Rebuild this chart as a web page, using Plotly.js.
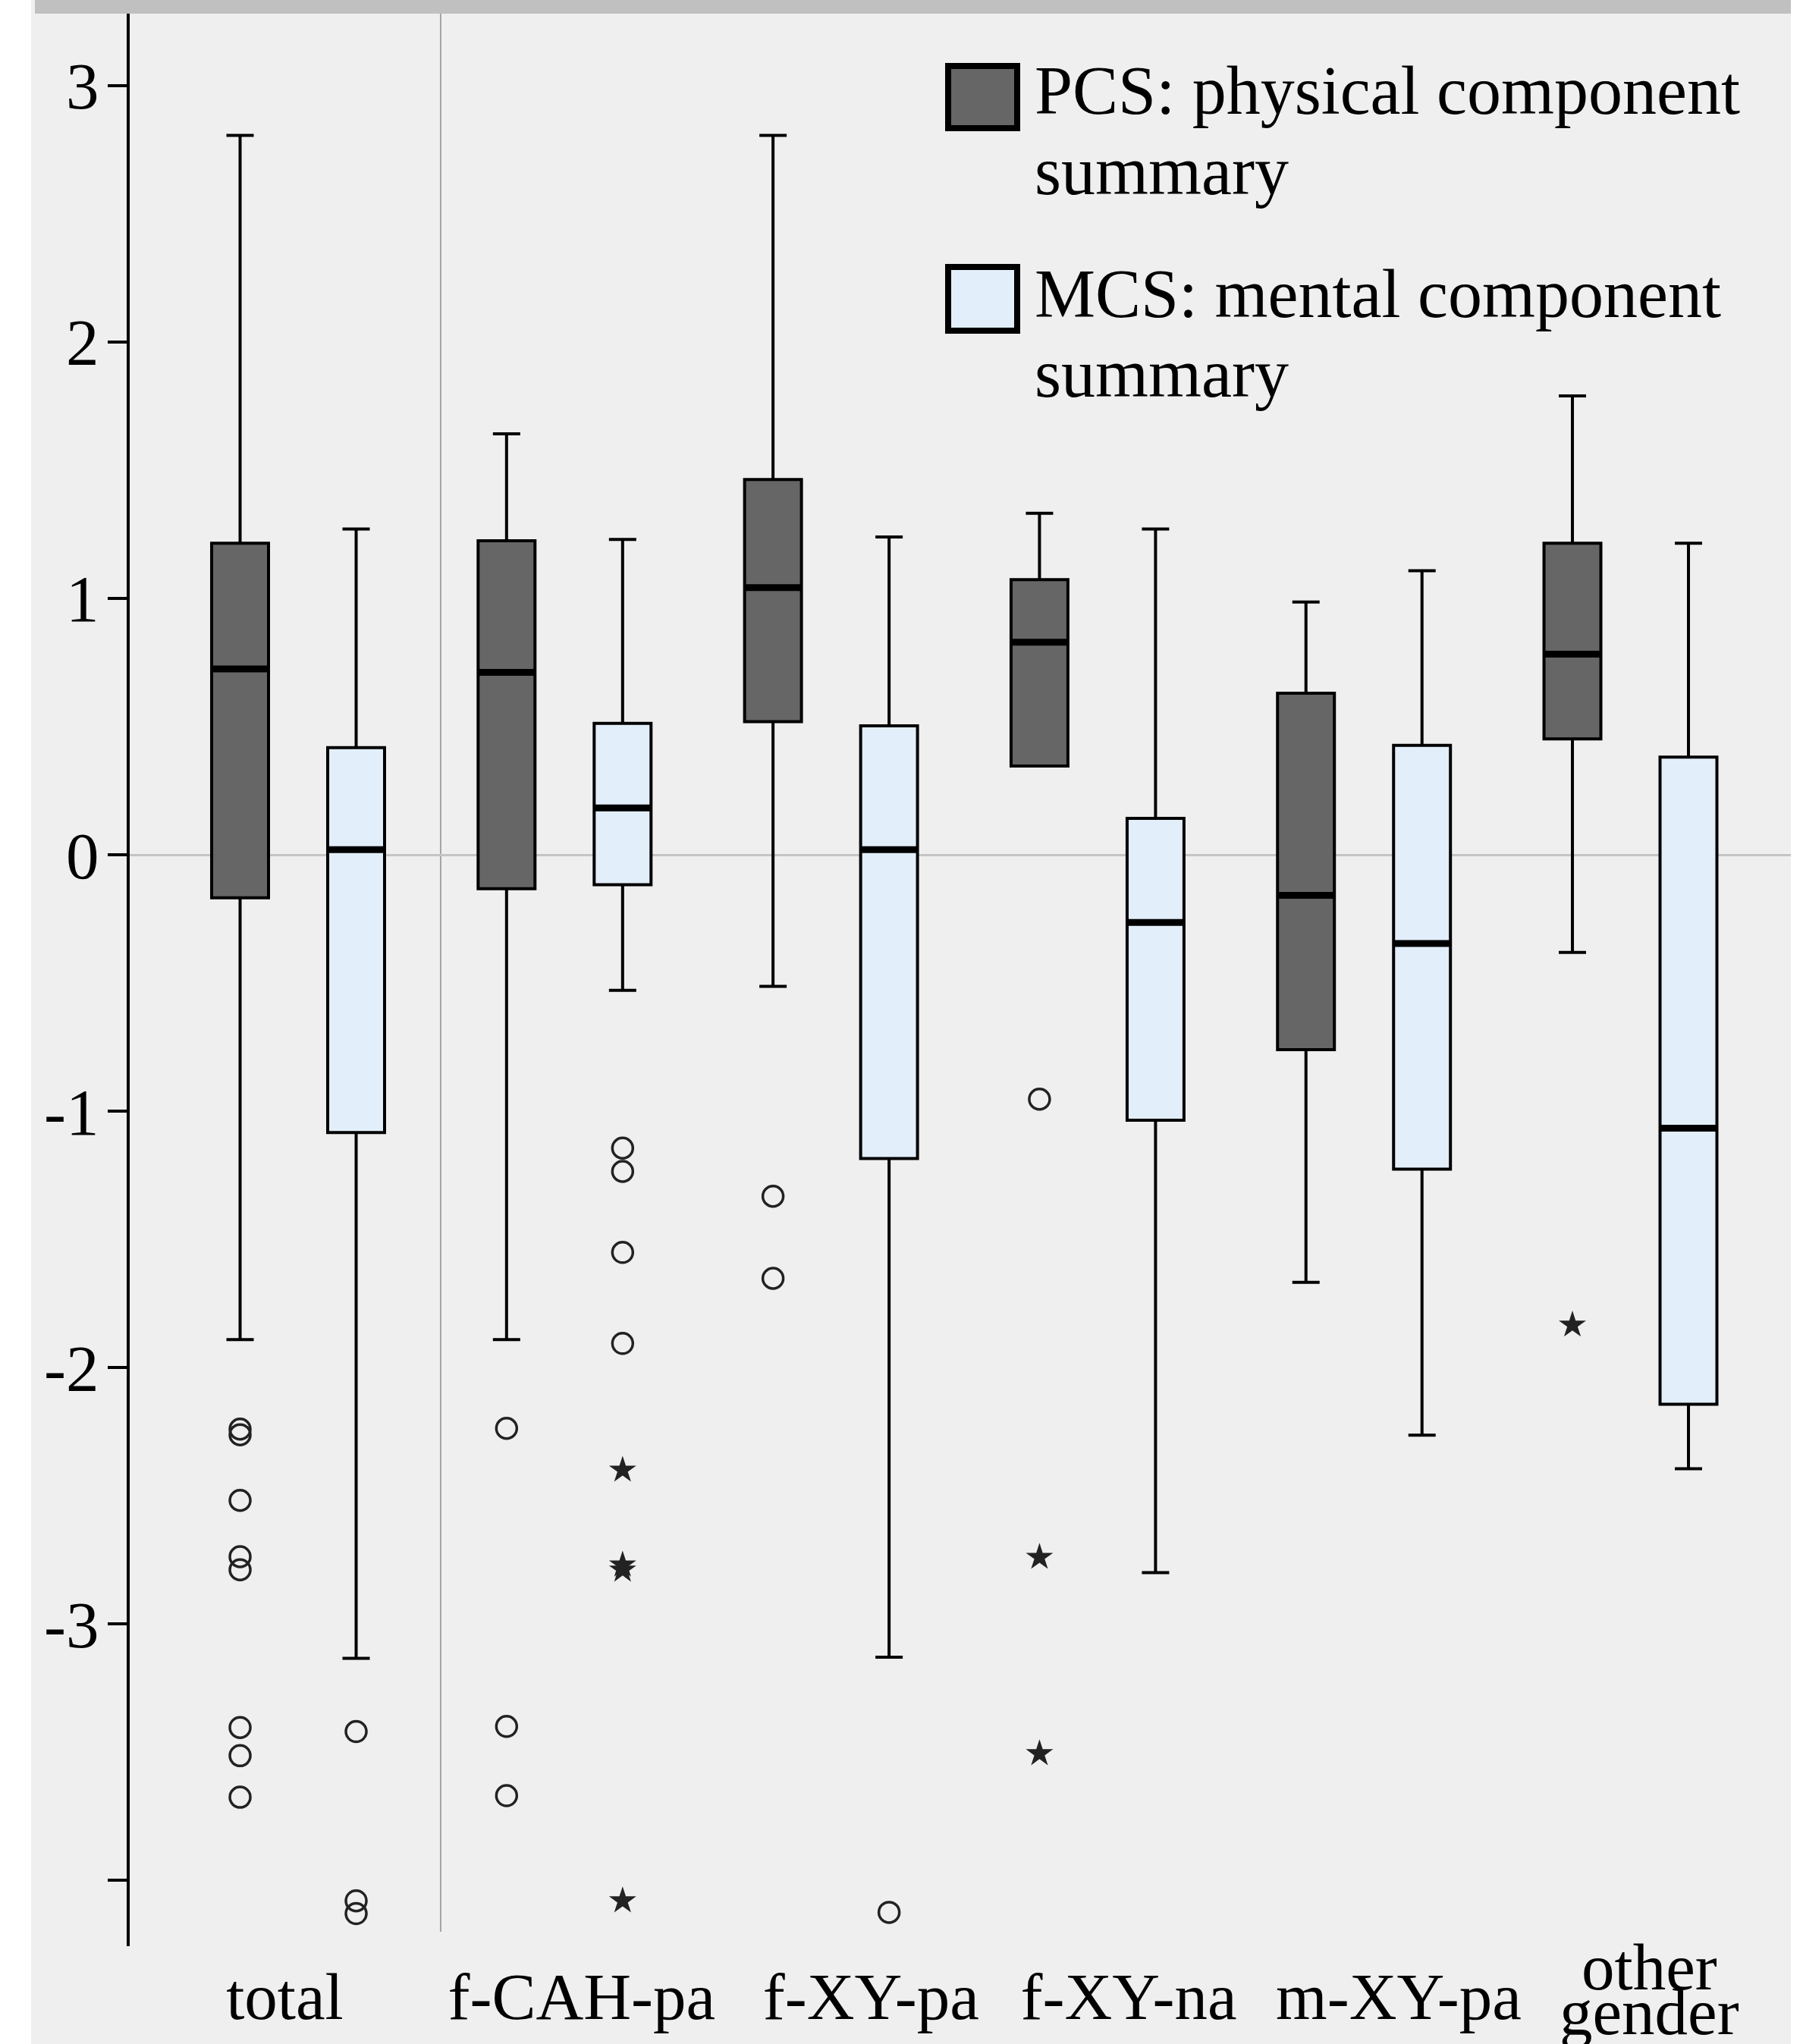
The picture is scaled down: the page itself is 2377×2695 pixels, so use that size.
<!DOCTYPE html>
<html><head><meta charset="utf-8">
<script src="https://cdn.plot.ly/plotly-3.0.1.min.js"></script>
<style>html,body{margin:0;padding:0;background:#fff;} #chart{width:2377px;height:2695px;}</style>
</head><body><div id="chart"></div>
<script>
// ---------- DATA ----------
const CATEGORIES = ['total', 'f-CAH-pa', 'f-XY-pa', 'f-XY-na', 'm-XY-pa', 'other gender'];
const SERIES = ['PCS: physical component summary', 'MCS: mental component summary'];

const PCS_UPPER  = [2.806, 1.642, 2.806, 1.332, 0.986, 1.790];
const PCS_Q3     = [1.215, 1.225, 1.464, 1.073, 0.630, 1.215];
const PCS_MEDIAN = [0.725, 0.712, 1.042, 0.829, -0.158, 0.783];
const PCS_Q1     = [-0.168, -0.132, 0.519, 0.346, -0.760, 0.452];
const PCS_LOWER  = [-1.891, -1.891, -0.513, 0.346, -1.668, -0.381];

const MCS_UPPER  = [1.271, 1.230, 1.240, 1.271, 1.108, 1.215];
const MCS_Q3     = [0.418, 0.513, 0.503, 0.142, 0.427, 0.381];
const MCS_MEDIAN = [0.020, 0.183, 0.020, -0.264, -0.346, -1.066];
const MCS_Q1     = [-1.083, -0.117, -1.185, -1.035, -1.226, -2.143];
const MCS_LOWER  = [-3.134, -0.529, -3.130, -2.800, -2.264, -2.395];

// outliers (open circles) and extremes (stars): category index + value
const PCS_OUT_CAT = [0, 0, 0, 0, 0, 0, 0, 0, 1, 1, 1, 2, 2, 3];
const PCS_OUT_VAL = [-2.240, -2.262, -2.518, -2.738, -2.789, -3.404, -3.514, -3.676, -2.237, -3.400, -3.670, -1.332, -1.652, -0.953];
const PCS_EXT_CAT = [3, 3, 5];
const PCS_EXT_VAL = [-2.740, -3.506, -1.834];
const MCS_OUT_CAT = [0, 0, 0, 1, 1, 1, 1, 2];
const MCS_OUT_VAL = [-3.420, -4.080, -4.130, -1.144, -1.235, -1.551, -1.906, -4.125];
const MCS_EXT_CAT = [1, 1, 1, 1];
const MCS_EXT_VAL = [-2.400, -2.770, -2.790, -4.080];

const Y_TICK_VALS = [-4, -3, -2, -1, 0, 1, 2, 3];
const Y_TICK_TEXT = ['', '-3', '-2', '-1', '0', '1', '2', '3'];

// ---------- STYLE / LAYOUT CONSTANTS ----------
const W = 2377, H = 2695;
const ML = 171, MR = 16, MT = 17, MB = 129;
const PW = W - ML - MR, PH = H - MT - MB;
const BOXGAP = 0.129, BOXGROUPGAP = 0.51;
const FONT = 'Liberation Serif, Times New Roman, serif';
const FS = 87, LEG_FS = 90;
const PCS_FILL = '#666666', MCS_FILL = '#e2eefa', BG = '#efefef';
// horizontal placement of each category label relative to its group centre (axis units)
const LABEL_SHIFT = [-0.05, 0.064, 0.15, 0.117, 0.13, 0.071];

const px = X => (X - ML) / PW;           // pixel -> paper x
const py = Y => 1 - (Y - MT) / PH;       // pixel -> paper y

const xPos = CATEGORIES.map((c, i) => i);
const gf = 1 - BOXGAP, ggf = 1 - BOXGROUPGAP;
const offs = [-0.25 * gf, 0.25 * gf];
const halfW = 0.5 * gf * ggf / 2;

function boxTrace(name, q1, med, q3, lo, hi, fill) {
  return {
    type: 'box', name: name, x: xPos, q1: q1, median: med, q3: q3,
    lowerfence: lo, upperfence: hi, boxpoints: false,
    fillcolor: fill, line: {color: '#000', width: 4}, whiskerwidth: 0.48,
    showlegend: false, hoverinfo: 'skip'
  };
}
function medianTrace(med, k) {
  const xs = [], ys = [];
  med.forEach((m, i) => { const c = i + offs[k]; xs.push(c - halfW, c + halfW, null); ys.push(m, m, null); });
  return {type: 'scatter', mode: 'lines', x: xs, y: ys, line: {color: '#000', width: 9}, showlegend: false, hoverinfo: 'skip'};
}
function pointTrace(cats, vals, k, star) {
  return {
    type: 'scatter', mode: 'markers', x: cats.map(c => c + offs[k]), y: vals,
    marker: star ? {symbol: 'star', size: 27, color: '#222', line: {width: 0}}
                 : {symbol: 'circle-open', size: 27, color: '#222', line: {width: 3.5, color: '#222'}},
    showlegend: false, hoverinfo: 'skip'
  };
}

const data = [
  boxTrace(SERIES[0], PCS_Q1, PCS_MEDIAN, PCS_Q3, PCS_LOWER, PCS_UPPER, PCS_FILL),
  boxTrace(SERIES[1], MCS_Q1, MCS_MEDIAN, MCS_Q3, MCS_LOWER, MCS_UPPER, MCS_FILL),
  medianTrace(PCS_MEDIAN, 0), medianTrace(MCS_MEDIAN, 1),
  pointTrace(PCS_OUT_CAT, PCS_OUT_VAL, 0, false), pointTrace(PCS_EXT_CAT, PCS_EXT_VAL, 0, true),
  pointTrace(MCS_OUT_CAT, MCS_OUT_VAL, 1, false), pointTrace(MCS_EXT_CAT, MCS_EXT_VAL, 1, true)
];

// category labels: single-word ones as ticks, multi-word stacked as annotations
const tickVals = [], tickText = [];
const annotations = [];
CATEGORIES.forEach((c, i) => {
  const parts = c.split(' ');
  const xl = i + LABEL_SHIFT[i];
  if (parts.length === 1) { tickVals.push(xl); tickText.push(c); }
  else {
    annotations.push({xref: 'x', yref: 'paper', x: xl, y: py(2593), text: parts[0], showarrow: false, xanchor: 'center', yanchor: 'middle', font: {family: FONT, size: FS, color: '#000'}});
    annotations.push({xref: 'x', yref: 'paper', x: xl, y: py(2652), text: parts[1], showarrow: false, xanchor: 'center', yanchor: 'middle', font: {family: FONT, size: FS, color: '#000'}});
  }
});

// legend (drawn manually: large swatches)
const legendLines = [
  ['PCS: physical component', 119], ['summary', 225],
  ['MCS: mental component', 387], ['summary', 492]
];
legendLines.forEach(([t, y]) => annotations.push({
  xref: 'paper', yref: 'paper', x: px(1362), y: py(y), text: t, showarrow: false,
  xanchor: 'left', yanchor: 'middle', font: {family: FONT, size: LEG_FS, color: '#000'}
}));

const shapes = [
  // page frame: white strips left/right, grey top bar
  {type: 'rect', xref: 'paper', yref: 'paper', x0: px(0), x1: px(41), y0: py(H), y1: py(0), fillcolor: '#fff', line: {width: 0}},
  {type: 'rect', xref: 'paper', yref: 'paper', x0: px(2361), x1: px(W), y0: py(H), y1: py(0), fillcolor: '#fff', line: {width: 0}},
  {type: 'rect', xref: 'paper', yref: 'paper', x0: px(46), x1: px(2361), y0: py(18), y1: py(0), fillcolor: '#c0c0c0', line: {width: 0}},
  // separator between total and subgroups
  {type: 'line', xref: 'x', yref: 'paper', x0: 0.535, x1: 0.535, y0: py(2547), y1: 1, line: {color: '#a4a4a4', width: 2}, layer: 'below'},
  // legend swatches
  {type: 'rect', xref: 'paper', yref: 'paper', x0: px(1250), x1: px(1341), y0: py(169), y1: py(87), fillcolor: PCS_FILL, line: {color: '#000', width: 8}},
  {type: 'rect', xref: 'paper', yref: 'paper', x0: px(1250), x1: px(1341), y0: py(436), y1: py(352), fillcolor: MCS_FILL, line: {color: '#000', width: 8}}
];

const layout = {
  width: W, height: H,
  margin: {l: ML, r: MR, t: MT, b: MB, pad: 0},
  paper_bgcolor: BG, plot_bgcolor: BG,
  font: {family: FONT, size: FS, color: '#000'},
  boxmode: 'group', boxgap: BOXGAP, boxgroupgap: BOXGROUPGAP,
  showlegend: false,
  xaxis: {
    type: 'linear', range: [-0.632, 5.602], tickvals: tickVals, ticktext: tickText,
    ticks: '', showline: false, showgrid: false, zeroline: false,
    tickfont: {family: FONT, size: FS, color: '#000'}, ticklabelstandoff: 8
  },
  yaxis: {
    range: [-4.257, 3.284], tickvals: Y_TICK_VALS, ticktext: Y_TICK_TEXT,
    ticks: 'outside', ticklen: 25, tickwidth: 4, tickcolor: '#000',
    showline: true, linewidth: 4, linecolor: '#000', showgrid: false,
    zeroline: true, zerolinecolor: '#c4c4c4', zerolinewidth: 3,
    tickfont: {family: FONT, size: FS, color: '#000'}, ticklabelstandoff: -6
  },
  shapes: shapes,
  annotations: annotations
};

Plotly.newPlot('chart', data, layout, {staticPlot: true, displayModeBar: false});
</script>
</body></html>
